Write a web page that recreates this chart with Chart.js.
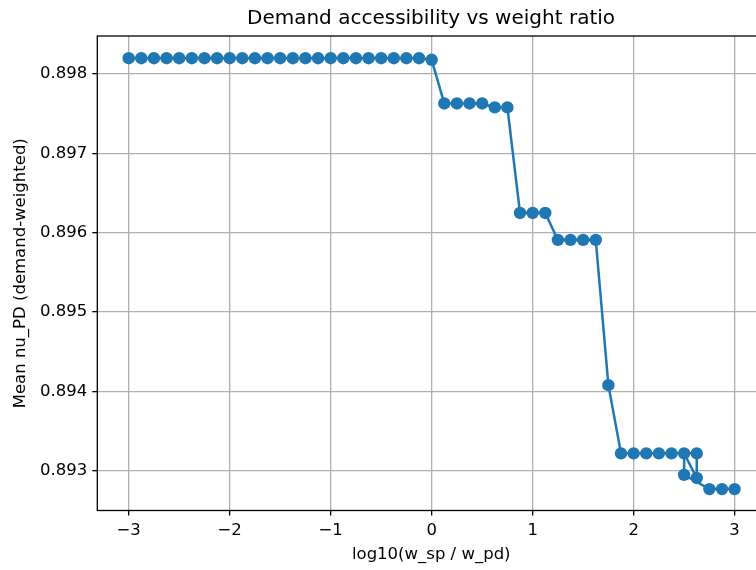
<!DOCTYPE html>
<html>
<head>
<meta charset="utf-8">
<script src="https://cdn.jsdelivr.net/npm/chart.js@4.4.0/dist/chart.umd.min.js"></script>
<style>
    html, body { margin: 0; padding: 0; background: #fff; overflow: hidden; }
    #wrap { width: 756px; height: 570px; overflow: hidden; position: relative; }
    #box { width: 862px; height: 570px; position: absolute; left: 0; top: 0; }
</style>
</head>
<body>
<div id="wrap"><div id="box"><canvas id="chart"></canvas></div></div>
<script>
// log10 weight ratio, in the order the points were plotted
const logRatio = [
    -3, -2.875, -2.75, -2.625, -2.5, -2.375, -2.25, -2.125,
    -2, -1.875, -1.75, -1.625, -1.5, -1.375, -1.25, -1.125,
    -1, -0.875, -0.75, -0.625, -0.5, -0.375, -0.25, -0.125,
    0, 0.125, 0.25, 0.375, 0.5, 0.625, 0.75, 0.875,
    1, 1.125, 1.25, 1.375, 1.5, 1.625, 1.75, 1.875,
    2, 2.125, 2.25, 2.375, 2.625, 2.625, 2.5, 2.5,
    2.75, 2.875, 3
];
const meanNuPD = [
    0.89820, 0.89820, 0.89820, 0.89820, 0.89820, 0.89820, 0.89820, 0.89820,
    0.89820, 0.89820, 0.89820, 0.89820, 0.89820, 0.89820, 0.89820, 0.89820,
    0.89820, 0.89820, 0.89820, 0.89820, 0.89820, 0.89820, 0.89820, 0.89820,
    0.89818, 0.89763, 0.89763, 0.89763, 0.89763, 0.89758, 0.89758, 0.89625,
    0.89625, 0.89625, 0.89591, 0.89591, 0.89591, 0.89591, 0.89408, 0.89322,
    0.89322, 0.89322, 0.89322, 0.89322, 0.89322, 0.89291, 0.89322, 0.89295,
    0.89277, 0.89277, 0.89277
];
const xTicks = [-3, -2, -1, 0, 1, 2, 3];
const yTicks = [0.893, 0.894, 0.895, 0.896, 0.897, 0.898];

const blue = '#1f77b4';
const font = 'DejaVu Sans';

// axes box (matplotlib spines)
const frame = {
    id: 'frame',
    afterDraw(chart) {
        const { ctx, chartArea: a } = chart;
        ctx.save();
        ctx.strokeStyle = '#000';
        ctx.lineWidth = 1.3;
        ctx.strokeRect(a.left, a.top, a.right - a.left, a.bottom - a.top);
        ctx.restore();
    }
};

const fmtX = v => v < 0 ? '\u2212' + Math.abs(v) : String(v);

// canvas is wider than the window: the plot runs past the right edge
// like the cropped original, and the title stays centred over the axes
new Chart(document.getElementById('chart').getContext('2d'), {
    type: 'scatter',
    data: {
        datasets: [{
            data: logRatio.map((x, i) => ({ x: x, y: meanNuPD[i] })),
            showLine: true,
            borderColor: blue,
            borderWidth: 2.5,
            backgroundColor: blue,
            pointBackgroundColor: blue,
            pointBorderWidth: 0,
            pointRadius: 6.2,
            pointHoverRadius: 6.2,
            tension: 0
        }]
    },
    options: {
        responsive: true,
        maintainAspectRatio: false,
        animation: false,
        devicePixelRatio: 1,
        layout: { padding: 0 },
        plugins: {
            legend: { display: false },
            tooltip: { enabled: false },
            title: {
                display: true,
                text: 'Demand accessibility vs weight ratio',
                color: '#000',
                font: { family: font, size: 20, weight: 'normal' },
                padding: { top: 7, bottom: 5 }
            }
        },
        scales: {
            x: {
                type: 'linear',
                min: -3.311,
                max: 4.20,
                afterBuildTicks: s => { s.ticks = xTicks.map(v => ({ value: v })); },
                afterFit: s => { s.height = 59.5; },
                border: { display: false },
                grid: { color: '#b0b0b0', lineWidth: 1.3, tickColor: '#000', tickLength: 5, tickWidth: 1.3 },
                ticks: {
                    color: '#000', padding: 5, maxRotation: 0,
                    font: { family: font, size: 16.5 },
                    callback: v => fmtX(v)
                },
                title: {
                    display: false
                }
            },
            y: {
                type: 'linear',
                min: 0.89250,
                max: 0.89848,
                afterBuildTicks: s => { s.ticks = yTicks.map(v => ({ value: v })); },
                afterFit: s => { s.width = 97.3; },
                border: { display: false },
                grid: { color: '#b0b0b0', lineWidth: 1.3, tickColor: '#000', tickLength: 5, tickWidth: 1.3 },
                ticks: {
                    color: '#000', padding: 5,
                    font: { family: font, size: 16.5 },
                    callback: v => v.toFixed(3)
                },
                title: {
                    display: true, text: 'Mean nu_PD (demand-weighted)', color: '#000',
                    font: { family: font, size: 16.5 },
                    padding: { top: 11, bottom: 0 }
                }
            }
        }
    },
    plugins: [frame, {
        // x-axis label is centred on the axes (0.0 sits at the middle), not the canvas
        id: 'xLabel',
        afterDraw(chart) {
            const { ctx, chartArea: a } = chart;
            const x = chart.scales.x.getPixelForValue(-0.004);
            ctx.save();
            ctx.fillStyle = '#000';
            ctx.font = '16.5px "' + font + '"';
            ctx.textAlign = 'center';
            ctx.textBaseline = 'middle';
            ctx.fillText('log10(w_sp / w_pd)', x, a.bottom + 44.5);
            ctx.restore();
        }
    }]
});
</script>
</body>
</html>
